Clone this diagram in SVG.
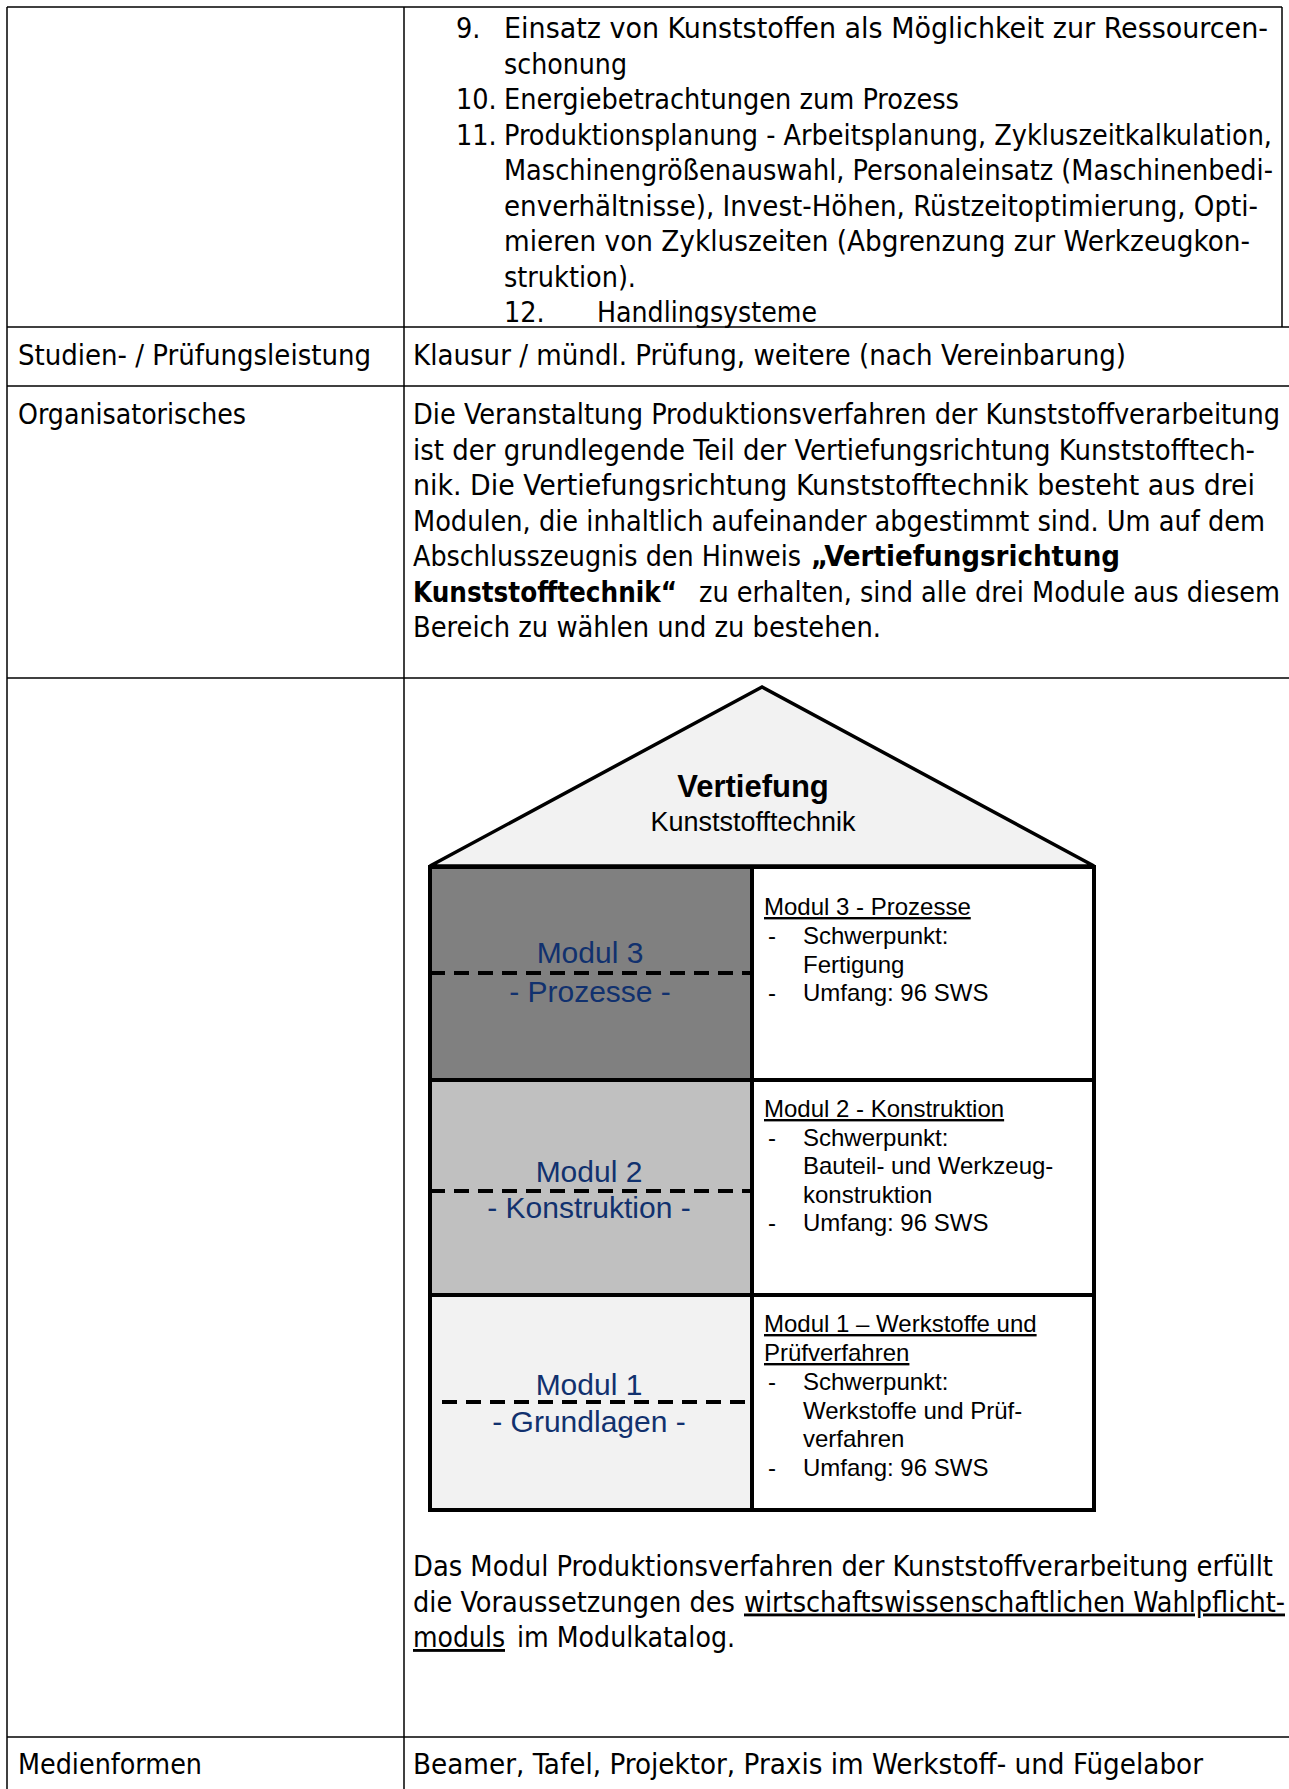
<svg xmlns="http://www.w3.org/2000/svg" width="1289" height="1789" viewBox="0 0 1289 1789">
<style>
.t{font-family:"DejaVu Sans Condensed","DejaVu Sans",sans-serif;font-size:28.5px;fill:#000}
.b{font-weight:bold}
.u{text-decoration:underline}
.grid{stroke:#000;stroke-width:1.5;fill:none}
.a{font-family:"Liberation Sans",Arial,sans-serif;fill:#000}
.blue{font-family:"Liberation Sans",Arial,sans-serif;font-size:30px;fill:#11316e;text-anchor:middle}
.box{stroke:#000;stroke-width:4}
.dash{stroke:#000;stroke-width:4;stroke-dasharray:15 9;fill:none}
.r{font-family:"Liberation Sans",Arial,sans-serif;font-size:24px;fill:#000}
</style>
<rect width="1289" height="1789" fill="#fff"/>
<g id="grid" class="grid">
<line x1="7" y1="7" x2="1282" y2="7"/>
<line x1="1282" y1="7" x2="1282" y2="327"/>
<line x1="7" y1="327" x2="1289" y2="327"/>
<line x1="7" y1="386" x2="1289" y2="386"/>
<line x1="7" y1="678" x2="1289" y2="678"/>
<line x1="7" y1="1737" x2="1289" y2="1737"/>
<line x1="7" y1="7" x2="7" y2="1789"/>
<line x1="404" y1="7" x2="404" y2="1789"/>
</g>
<g id="row-inhalte">
<text class="t" x="456" y="38">9.</text>
<text class="t" x="504" y="38" textLength="764" lengthAdjust="spacingAndGlyphs">Einsatz von Kunststoffen als Möglichkeit zur Ressourcen-</text>
<text class="t" x="504" y="73.5" textLength="123" lengthAdjust="spacingAndGlyphs">schonung</text>
<text class="t" x="456" y="109">10.</text>
<text class="t" x="504" y="109" textLength="455" lengthAdjust="spacingAndGlyphs">Energiebetrachtungen zum Prozess</text>
<text class="t" x="456" y="144.5">11.</text>
<text class="t" x="504" y="144.5" textLength="768" lengthAdjust="spacingAndGlyphs">Produktionsplanung - Arbeitsplanung, Zykluszeitkalkulation,</text>
<text class="t" x="504" y="180" textLength="769" lengthAdjust="spacingAndGlyphs">Maschinengrößenauswahl, Personaleinsatz (Maschinenbedi-</text>
<text class="t" x="504" y="215.5" textLength="754" lengthAdjust="spacingAndGlyphs">enverhältnisse), Invest-Höhen, Rüstzeitoptimierung, Opti-</text>
<text class="t" x="504" y="251" textLength="746" lengthAdjust="spacingAndGlyphs">mieren von Zykluszeiten (Abgrenzung zur Werkzeugkon-</text>
<text class="t" x="504" y="286.5" textLength="132" lengthAdjust="spacingAndGlyphs">struktion).</text>
<text class="t" x="504" y="322">12.</text>
<text class="t" x="597" y="322" textLength="220" lengthAdjust="spacingAndGlyphs">Handlingsysteme</text>
</g>
<g id="row-pruefung">
<text class="t" x="18" y="365" textLength="353" lengthAdjust="spacingAndGlyphs">Studien- / Prüfungsleistung</text>
<text class="t" x="413" y="365" textLength="713" lengthAdjust="spacingAndGlyphs">Klausur / mündl. Prüfung, weitere (nach Vereinbarung)</text>
</g>
<g id="row-organisatorisches">
<text class="t" x="18" y="424" textLength="228" lengthAdjust="spacingAndGlyphs">Organisatorisches</text>
<text class="t" x="413" y="424" textLength="867" lengthAdjust="spacingAndGlyphs">Die Veranstaltung Produktionsverfahren der Kunststoffverarbeitung</text>
<text class="t" x="413" y="459.5" textLength="842" lengthAdjust="spacingAndGlyphs">ist der grundlegende Teil der Vertiefungsrichtung Kunststofftech-</text>
<text class="t" x="413" y="495" textLength="842" lengthAdjust="spacingAndGlyphs">nik. Die Vertiefungsrichtung Kunststofftechnik besteht aus drei</text>
<text class="t" x="413" y="530.5" textLength="852" lengthAdjust="spacingAndGlyphs">Modulen, die inhaltlich aufeinander abgestimmt sind. Um auf dem</text>
<text class="t" x="413" y="566" textLength="388" lengthAdjust="spacingAndGlyphs">Abschlusszeugnis den Hinweis</text>
<text class="t b" x="811" y="566" textLength="309" lengthAdjust="spacingAndGlyphs">„Vertiefungsrichtung</text>
<text class="t b" x="413" y="601.5" textLength="264" lengthAdjust="spacingAndGlyphs">Kunststofftechnik“</text>
<text class="t" x="699" y="601.5" textLength="581" lengthAdjust="spacingAndGlyphs">zu erhalten, sind alle drei Module aus diesem</text>
<text class="t" x="413" y="637" textLength="468" lengthAdjust="spacingAndGlyphs">Bereich zu wählen und zu bestehen.</text>
</g>
<g id="house">
<g id="roof">
<polygon points="762,687 430,866 1094,866" fill="#f2f2f2" stroke="#000" stroke-width="3.5" stroke-linejoin="miter"/>
<text class="a" x="753" y="797" font-size="31" font-weight="bold" text-anchor="middle">Vertiefung</text>
<text class="a" x="753" y="831" font-size="27" text-anchor="middle">Kunststofftechnik</text>
</g>
<g id="modul3">
<rect x="430" y="867" width="322" height="213" fill="#808080"/>
<rect x="752" y="867" width="342" height="213" fill="#fff"/>
<line class="dash" x1="430" y1="973" x2="751" y2="973"/>
<text class="blue" x="590" y="963">Modul 3</text>
<text class="blue" x="590" y="1002">- Prozesse -</text>
<text class="r u" x="764" y="915">Modul 3 - Prozesse</text>
<text class="r" x="768" y="944">-</text>
<text class="r" x="803" y="944">Schwerpunkt:</text>
<text class="r" x="803" y="972.5">Fertigung</text>
<text class="r" x="768" y="1001">-</text>
<text class="r" x="803" y="1001">Umfang: 96 SWS</text>
</g>
<g id="modul2">
<rect x="430" y="1080" width="322" height="215" fill="#c0c0c0"/>
<rect x="752" y="1080" width="342" height="215" fill="#fff"/>
<line class="dash" x1="430" y1="1191" x2="752" y2="1191"/>
<text class="blue" x="589" y="1182">Modul 2</text>
<text class="blue" x="589" y="1218">- Konstruktion -</text>
<text class="r u" x="764" y="1117">Modul 2 - Konstruktion</text>
<text class="r" x="768" y="1145.5">-</text>
<text class="r" x="803" y="1145.5">Schwerpunkt:</text>
<text class="r" x="803" y="1174">Bauteil- und Werkzeug-</text>
<text class="r" x="803" y="1202.5">konstruktion</text>
<text class="r" x="768" y="1231">-</text>
<text class="r" x="803" y="1231">Umfang: 96 SWS</text>
</g>
<g id="modul1">
<rect x="430" y="1295" width="322" height="215" fill="#f2f2f2"/>
<rect x="752" y="1295" width="342" height="215" fill="#fff"/>
<line class="dash" x1="442" y1="1402" x2="752" y2="1402"/>
<text class="blue" x="589" y="1395">Modul 1</text>
<text class="blue" x="589" y="1432">- Grundlagen -</text>
<text class="r u" x="764" y="1332">Modul 1 – Werkstoffe und</text>
<text class="r u" x="764" y="1361">Prüfverfahren</text>
<text class="r" x="768" y="1390">-</text>
<text class="r" x="803" y="1390">Schwerpunkt:</text>
<text class="r" x="803" y="1418.5">Werkstoffe und Prüf-</text>
<text class="r" x="803" y="1447">verfahren</text>
<text class="r" x="768" y="1475.5">-</text>
<text class="r" x="803" y="1475.5">Umfang: 96 SWS</text>
</g>
<g id="house-frame" class="box" fill="none">
<rect x="430" y="867" width="664" height="643"/>
<line x1="752" y1="867" x2="752" y2="1510"/>
<line x1="430" y1="1080" x2="1094" y2="1080"/>
<line x1="430" y1="1295" x2="1094" y2="1295"/>
</g>
</g>
<g id="row-diagramm-text">
<text class="t" x="413" y="1576" textLength="860" lengthAdjust="spacingAndGlyphs">Das Modul Produktionsverfahren der Kunststoffverarbeitung erfüllt</text>
<text class="t" x="413" y="1611.5" textLength="322" lengthAdjust="spacingAndGlyphs">die Voraussetzungen des</text>
<text class="t u" x="744" y="1611.5" textLength="541" lengthAdjust="spacingAndGlyphs">wirtschaftswissenschaftlichen Wahlpflicht-</text>
<text class="t u" x="413" y="1647" textLength="92" lengthAdjust="spacingAndGlyphs">moduls</text>
<text class="t" x="517" y="1647" textLength="218" lengthAdjust="spacingAndGlyphs">im Modulkatalog.</text>
</g>
<g id="row-medien">
<text class="t" x="18" y="1774" textLength="184" lengthAdjust="spacingAndGlyphs">Medienformen</text>
<text class="t" x="413" y="1774" textLength="790" lengthAdjust="spacingAndGlyphs">Beamer, Tafel, Projektor, Praxis im Werkstoff- und Fügelabor</text>
</g>
</svg>
